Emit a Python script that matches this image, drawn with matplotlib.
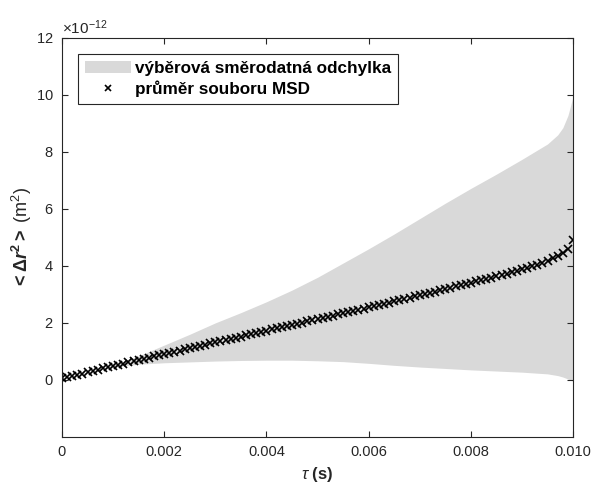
import numpy as np
import matplotlib.pyplot as plt
from matplotlib.ticker import ScalarFormatter

plt.rcParams['font.family'] = ['Liberation Sans', 'DejaVu Sans']
plt.rcParams['mathtext.fontset'] = 'custom'
plt.rcParams['mathtext.rm'] = 'Liberation Sans'
plt.rcParams['mathtext.it'] = 'Liberation Sans:italic'
plt.rcParams['mathtext.bf'] = 'Liberation Sans:bold'
plt.rcParams['mathtext.bfit'] = 'Liberation Sans:bold:italic'

# lag times of the MSD points (ms) and the ensemble mean MSD (x 1e-12 m^2)
tau_ms = np.arange(0, 101) * 0.1
msd_mean = [0.05, 0.10, 0.14, 0.18, 0.22, 0.27, 0.31, 0.35, 0.40, 0.44,
            0.48, 0.52, 0.57, 0.61, 0.65, 0.69, 0.74, 0.78, 0.82, 0.86,
            0.91, 0.95, 0.99, 1.03, 1.07, 1.11, 1.16, 1.20, 1.24, 1.28,
            1.32, 1.36, 1.40, 1.44, 1.48, 1.52, 1.56, 1.60, 1.64, 1.68,
            1.73, 1.77, 1.81, 1.85, 1.89, 1.93, 1.97, 2.01, 2.05, 2.09,
            2.13, 2.17, 2.21, 2.25, 2.30, 2.34, 2.38, 2.42, 2.46, 2.50,
            2.55, 2.59, 2.63, 2.67, 2.71, 2.76, 2.80, 2.84, 2.88, 2.93,
            2.97, 3.01, 3.06, 3.10, 3.14, 3.19, 3.23, 3.28, 3.32, 3.37,
            3.41, 3.46, 3.50, 3.55, 3.59, 3.64, 3.69, 3.73, 3.78, 3.83,
            3.88, 3.93, 3.98, 4.04, 4.10, 4.18, 4.27, 4.36, 4.46, 4.60,
            4.90]

# edges of the sample standard deviation band (x 1e-12 m^2)
band_tau_ms = [0, 0.5, 0.8, 1.0, 1.5, 2.0, 2.5, 3.0, 3.5, 4.0, 4.5, 5.0, 5.5, 6.0,
               6.5, 7.0, 7.5, 8.0, 8.5, 9.0, 9.5, 9.7, 9.8, 9.9, 10.0]
band_upper = [0.05, 0.28, 0.40, 0.52, 0.84, 1.22, 1.60, 2.00, 2.36, 2.74, 3.15, 3.60,
              4.10, 4.60, 5.12, 5.66, 6.20, 6.72, 7.22, 7.74, 8.28, 8.60, 8.85, 9.28, 9.95]
band_lower = [0.05, 0.26, 0.38, 0.45, 0.55, 0.60, 0.63, 0.66, 0.68, 0.69, 0.69, 0.67,
              0.64, 0.58, 0.51, 0.45, 0.40, 0.35, 0.31, 0.27, 0.21, 0.15, 0.10, 0.03, -0.05]

x_ticks = [0, 0.002, 0.004, 0.006, 0.008, 0.010]
x_tick_labels = ['0', '0.002', '0.004', '0.006', '0.008', '0.010']
y_ticks = [0, 2e-12, 4e-12, 6e-12, 8e-12, 10e-12, 12e-12]

tau = tau_ms * 1e-3
msd = np.array(msd_mean) * 1e-12
btau = np.array(band_tau_ms) * 1e-3
upper = np.array(band_upper) * 1e-12
lower = np.array(band_lower) * 1e-12

axis_col = '#262626'

fig = plt.figure(figsize=(5.92, 4.87), dpi=100)
ax = fig.add_axes([0.1047, 0.103, 0.8633, 0.819])

ax.fill_between(btau, lower, upper, color='#d9d9d9', linewidth=0,
                label='výběrová směrodatná odchylka')
ax.plot(tau, msd, 'x', color='black', markersize=6, markeredgewidth=1.2,
        label='průměr souboru MSD')

ax.set_xlim(0, 0.010)
ax.set_ylim(-2e-12, 12e-12)
ax.set_xticks(x_ticks)
ax.set_xticklabels(x_tick_labels)
ax.set_yticks(y_ticks)
fmt = ScalarFormatter(useMathText=True)
fmt.set_powerlimits((-12, -12))
ax.yaxis.set_major_formatter(fmt)
ax.yaxis.get_offset_text().set_fontsize(11)
ax.yaxis.get_offset_text().set_color(axis_col)

ax.tick_params(direction='in', length=4, width=0.8, colors=axis_col,
               labelsize=10.5, top=True, right=True, pad=6)
for s in ax.spines.values():
    s.set_color(axis_col)
    s.set_linewidth(0.8)

ax.set_xlabel(r'$\mathit{\tau}$ (s)', fontsize=12, fontweight='bold', color=axis_col)
ax.set_ylabel(r'$\mathbf{<\Delta}\mathbfit{r}^{\mathbf{2}}\mathbf{>}$ (m$^2$)',
              fontsize=13, color=axis_col)
ax.yaxis.set_label_coords(-0.055, 0.5)

leg = ax.legend(loc='upper left', fancybox=False, framealpha=1, edgecolor=axis_col,
                prop={'weight': 'bold', 'size': 12.3}, handlelength=2.7,
                borderaxespad=0.95, borderpad=0.4, labelspacing=0.25,
                handletextpad=0.25, markerscale=0.8)
leg.get_frame().set_linewidth(0.8)

fig.savefig('out.png', dpi=100)
